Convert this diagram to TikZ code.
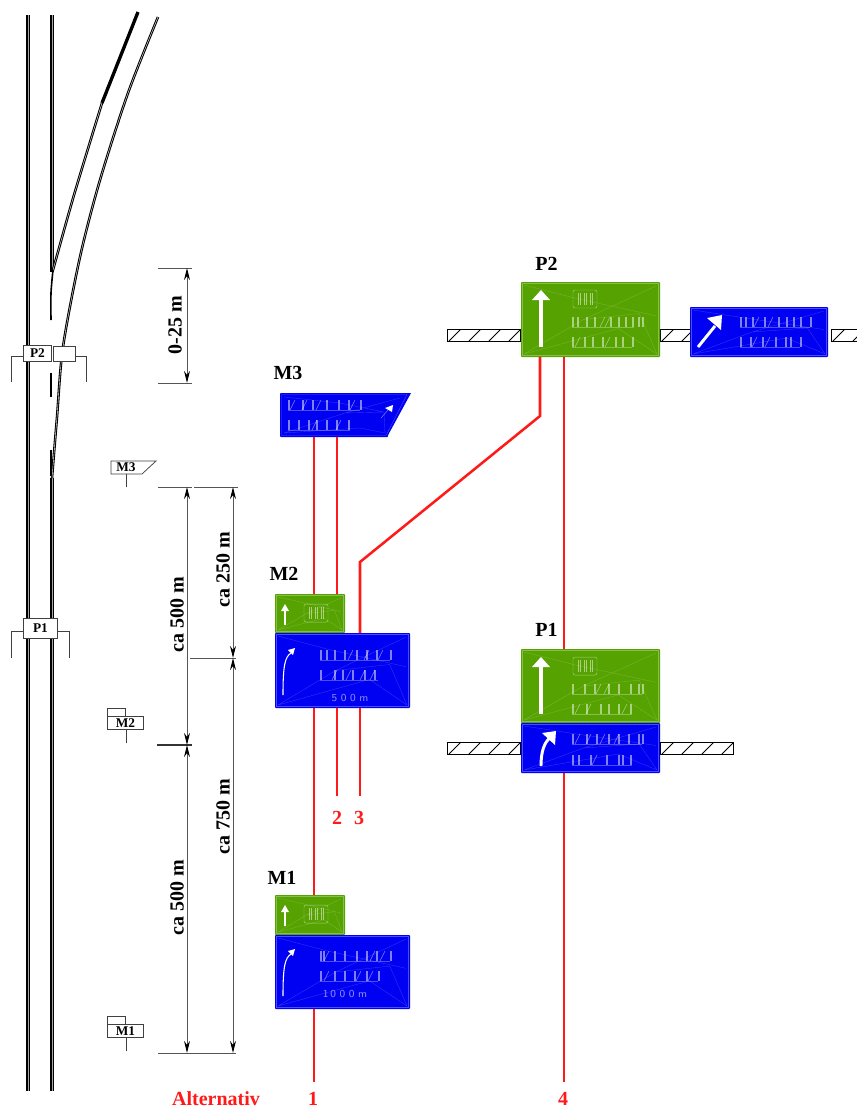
\documentclass[tikz,border=0pt]{standalone}
\usepackage{fontspec}
\setmainfont{Liberation Serif}
\usetikzlibrary{arrows.meta,patterns,calc}
\definecolor{signgreen}{HTML}{55A200}
\definecolor{signblue}{HTML}{0000F2}
\definecolor{linered}{HTML}{FF1A1A}
\definecolor{dimgray}{HTML}{555555}
\tikzset{
  signbox/.style={draw=none,inner sep=0,outer sep=0,rounded corners=0.6pt},
  glyph/.style={draw=white,draw opacity=.5,line width=.36pt},
  meshline/.style={draw=white,draw opacity=.2,line width=.28pt},
  redline/.style={draw=linered,line width=1.9pt},
  roadmain/.style={draw=black,line width=1.05pt,double=black!35,double distance=.3pt},
  roadline/.style={draw=black,line width=.8pt,double=white,double distance=.3pt},
  roadthick/.style={draw=black,line width=2.5pt},
  thinblack/.style={draw=black!75,line width=.55pt},
  signarrow/.style={draw=white,line width=2.2pt},
  dimline/.style={draw=dimgray,line width=.65pt},
  dimarrow/.style={dimline,{Stealth[length=9pt,width=4.4pt,color=black]}-{Stealth[length=9pt,width=4.4pt,color=black]}},
  bigtext/.style={font=\bfseries\fontsize{15}{15}\selectfont,inner sep=0,text=black},
  redtext/.style={bigtext,text=linered},
  smalltext/.style={font=\bfseries\fontsize{10}{10}\selectfont,inner sep=0},
  roadbox/.style={draw=black!75,fill=white,line width=.55pt,inner sep=0,outer sep=0},
  barbox/.style={draw=black,line width=.6pt,fill=white,inner sep=0,outer sep=0},
}
% sign plate: name, colour, x1, y1, x2, y2
\newcommand{\signplate}[6]{%
  \pgfmathsetmacro{\sw}{(#5-#3)*.75}\pgfmathsetmacro{\sh}{(#6-#4)*.75}%
  \node[signbox,fill=#2,minimum width=\sw pt,minimum height=\sh pt] (#1) at ({(#3+#5)/2},{(#4+#6)/2}) {};
  \draw[meshline,draw opacity=.3] (#3+1.5,#4+1.5) rectangle (#5-1.5,#6-1.5);
  \draw[meshline] (#3+3,#6-3) -- ({#3+.45*(#5-#3)},{#4+.5*(#6-#4)}) -- (#5-4,#4+4)
    (#3+3,#6-3) -- ({#3+.7*(#5-#3)},{#4+.62*(#6-#4)}) -- (#5-3,#6-3)
    (#3+3,#4+3) -- ({#3+.4*(#5-#3)},{#4+.22*(#6-#4)}) -- (#5-4,{#4+.45*(#6-#4)})
    ({#3+.45*(#5-#3)},{#4+.5*(#6-#4)}) -- ({#3+.85*(#5-#3)},{#4+.42*(#6-#4)}) -- (#5-3,#6-3);
}
% row of letter strokes: x, y, height, vertical offsets, slanted offsets
\newcommand{\strokes}[5]{%
  \foreach \d in {#4} {\draw[glyph] ({#1+\d},#2) -- ++(0,#3); \draw[glyph] ({#1+\d+1.2},#2) -- ++(0,#3);}
  \foreach \d in {#5} {\draw[glyph] ({#1+\d},#2+#3) -- ++(5,-#3);}
  \draw[glyph,draw opacity=.3] (#1,#2+#3) -- ++({\lastrow},0);
}
\newcommand{\lastrow}{62}
\newcommand{\plate}[4]{\draw[glyph,rounded corners=1.5pt] (#1,#2) rectangle (#3,#4);
  \foreach \t in {.2,.3,.45,.55,.7,.8} {\draw[glyph] ({#1+\t*(#3-#1)},#2+3) -- ({#1+\t*(#3-#1)},#4-3);}}
\begin{document}
\begin{tikzpicture}[x=.75pt,y=-.75pt]
\useasboundingbox (0,0) rectangle (857,1108);

% ---------- road ----------
\coordinate (ra1) at (28,15); \coordinate (ra2) at (28,1091);
\coordinate (rb1) at (52,15); \coordinate (rb2) at (52,272);
\coordinate (rc1) at (52,478); \coordinate (rc2) at (52,1091);
\coordinate (rd1) at (51,373); \coordinate (rd2) at (51,397);
\coordinate (re1) at (51,450); \coordinate (re2) at (51,476);
\coordinate (rf1) at (138,12); \coordinate (rf2) at (102,103);
\draw[roadmain] (ra1) -- (ra2);
\draw[roadmain] (rb1) -- (rb2);
\draw[roadmain] (rc1) -- (rc2);
\draw[draw=black,line width=1pt] (rd1) -- (rd2);
\draw[draw=black,line width=1.5pt] (re1) -- (re2);
\draw[roadthick] (rf1) -- (rf2);
\draw[roadline] plot[smooth,tension=.5] coordinates {(rf2) (74,195) (53,270)};
\draw[draw=black,line width=1.2pt] plot[smooth,tension=.5] coordinates {(53,270) (51,293) (51,320)};
\draw[roadline] plot[smooth,tension=.5] coordinates {(158,17) (128,93) (100,180) (80,257) (63,347) (57,417) (52,478)};

% road-side gantries
\node[roadbox,smalltext,minimum width=21.5pt,minimum height=12pt] (gp2) at (37.5,353) {P2};
\node[roadbox,minimum width=16.5pt,minimum height=11.25pt] (gp2b) at (64,353.5) {};
\coordinate (gp2l) at (11,382); \coordinate (gp2r) at (86.5,382);
\draw[thinblack] (gp2.west |- 0,356) -| (gp2l);
\draw[thinblack] (gp2b.east |- 0,356) -| (gp2r);
\node[roadbox,smalltext,minimum width=25pt,minimum height=15pt] (gp1) at (40.5,628) {P1};
\coordinate (gp1l) at (11,658); \coordinate (gp1r) at (69,658);
\draw[thinblack] (gp1.west |- 0,631) -| (gp1l);
\draw[thinblack] (gp1.east |- 0,631) -| (gp1r);

% small roadside markers
\draw[roadbox] (111,461) -- (156,461) -- (142,474) -- (111,474) -- cycle;
\node[smalltext] (sm3) at (126,467.5) {M3};
\coordinate (sm3s) at (126,487);
\draw[thinblack] (sm3s |- 0,474) -- (sm3s);
\draw[roadbox] (107,708) rectangle (125,716);
\node[roadbox,smalltext,minimum width=27.5pt,minimum height=10pt] (sm2) at (125.5,723) {M2};
\coordinate (sm2s) at (126,743);
\draw[thinblack] (sm2s |- sm2.south) -- (sm2s);
\draw[roadbox] (107,1016) rectangle (125,1024);
\node[roadbox,smalltext,minimum width=27.5pt,minimum height=10pt] (sm1) at (125.5,1031) {M1};
\coordinate (sm1s) at (126,1051);
\draw[thinblack] (sm1s |- sm1.south) -- (sm1s);

% ---------- dimensions ----------
\coordinate (d1a) at (187,268); \coordinate (d1b) at (187,383);
\coordinate (d2a) at (187,487); \coordinate (d2b) at (187,745); \coordinate (d2c) at (187,1053);
\coordinate (d3a) at (233,487); \coordinate (d3b) at (233,658); \coordinate (d3c) at (233,1053);
\draw[dimline] (158,268) -- (192,268);
\draw[dimline] (158,383) -- (192,383);
\draw[dimline] (158,487) -- (192,487);
\draw[dimline] (194,487) -- (238,487);
\draw[dimline] (190,658) -- (236,658);
\draw[draw=black!80,line width=.8pt] (157,745) -- (192,745);
\draw[dimline] (158,1053) -- (236,1053);
\draw[dimarrow] (d1a) -- (d1b);
\draw[dimarrow] (d2a) -- (d2b);
\draw[dimarrow] (d2b) -- (d2c);
\draw[dimarrow] (d3a) -- (d3b);
\draw[dimarrow] (d3b) -- (d3c);
\node[bigtext,rotate=90] (l025) at (175,325) {0-25 m};
\node[bigtext,rotate=90] (l500a) at (177,615) {ca 500 m};
\node[bigtext,rotate=90] (l500b) at (177,898) {ca 500 m};
\node[bigtext,rotate=90] (l250) at (223,570) {ca 250 m};
\node[bigtext,rotate=90] (l750) at (223,817) {ca 750 m};

% ---------- hatched gantry bars ----------
\foreach \nm/\xa/\ya/\xb/\yb in {b1/447/329/520/341,b2/660/329/690/341,b3/831/329/857/341,b4/447/742/520/754,b5/660/742/733/754}{
  \draw[barbox] (\xa,\ya) rectangle (\xb,\yb);
  \begin{scope}
    \clip (\xa,\ya) rectangle (\xb,\yb);
    \foreach \k in {-2,...,6} {\draw[draw=black,line width=.6pt] ({\xa+\k*20+2},\yb) -- ++(12,-12);}
  \end{scope}
}

% ---------- sign P2 ----------
\signplate{p2g}{signgreen}{521}{282}{660}{357}
\draw[signarrow,line width=2.4pt] (541,347) -- (541,298);
\fill[white] (532,300) -- (541,290) -- (550,300) -- cycle;
\plate{573}{290}{597}{308}
\strokes{572}{317}{10}{0,5,14,22,38,46,53,60,66,70}{28,33}
\renewcommand{\lastrow}{60}
\strokes{572}{337}{10}{0,12,20,30,43,50,60}{3,33}
\renewcommand{\lastrow}{70}
\signplate{p2b}{signblue}{690}{307}{828}{357}
\draw[signarrow] (698,347) -- (715,326);
\fill[white] (707,318) -- (722,315) -- (721,330) -- cycle;
\strokes{740}{317}{10}{0,5,12,24,38,46,53,60,70}{14,28}
\renewcommand{\lastrow}{60}
\strokes{740}{337}{10}{0,10,22,35,45,50,60}{12,25}
\renewcommand{\lastrow}{72}

% ---------- sign M3 ----------
\node[signbox,fill=signblue,minimum width=81pt,minimum height=33pt] (m3) at (334,415) {};
\fill[signblue] (387,393) -- (411,393) -- (387,437) -- cycle;
\draw[meshline,draw opacity=.3] (281.5,394.5) -- (407,394.5) -- (386,435.5) -- (281.5,435.5) -- cycle;
\draw[meshline] (284,433) -- (345,413) -- (400,398)
  (284,433) -- (360,428) -- (385,433)
  (284,397) -- (340,403) -- (384,412)
  (345,413) -- (384,412) -- (385,433);
\draw[glyph] (381,418) -- (388,410);
\fill[white] (385,408) -- (393,405) -- (392,412) -- cycle;
\strokes{288}{400}{10}{0,14,24,38,50,60,72}{2,14,28,62}
\renewcommand{\lastrow}{62}
\strokes{288}{420}{10}{0,10,20,28,38,48,60}{24,48}

% ---------- sign M2 ----------
\signplate{m2g}{signgreen}{275}{594}{345}{633}
\draw[glyph,draw opacity=1,line width=.8pt] (285,625) -- (285,610);
\fill[white] (281,611) -- (285,604) -- (289,611) -- cycle;
\plate{304}{604}{328}{622}
\signplate{m2b}{signblue}{275}{633}{410}{708}
\draw[glyph,draw opacity=1,line width=.8pt] (283,695) .. controls (283,665) and (285,657) .. (291,653);
\fill[white] (288,650) -- (295,648) -- (293,655) -- cycle;
\renewcommand{\lastrow}{70}
\strokes{320}{650}{10}{0,6,14,24,36,46,56,70}{28,44,58}
\renewcommand{\lastrow}{58}
\strokes{320}{670}{10}{0,14,22,32,44,54}{12,26,40,50}
\node[text=white,opacity=.55,font=\sffamily\fontsize{8}{8}\selectfont,inner sep=0] (t500) at (350,698) {5\,\,0\,\,0\,\,m};

% ---------- sign M1 ----------
\signplate{m1g}{signgreen}{275}{895}{345}{935}
\draw[glyph,draw opacity=1,line width=.8pt] (285,926) -- (285,911);
\fill[white] (281,912) -- (285,905) -- (289,912) -- cycle;
\plate{304}{905}{328}{923}
\signplate{m1b}{signblue}{275}{935}{410}{1009}
\draw[glyph,draw opacity=1,line width=.8pt] (283,996) .. controls (283,966) and (285,958) .. (291,954);
\fill[white] (288,951) -- (295,949) -- (293,956) -- cycle;
\renewcommand{\lastrow}{70}
\strokes{320}{951}{10}{0,3,14,24,36,46,56,70}{4,50,60}
\renewcommand{\lastrow}{58}
\strokes{320}{971}{10}{0,14,24,34,46,58}{4,36,48}
\node[text=white,opacity=.55,font=\sffamily\fontsize{8}{8}\selectfont,inner sep=0] (t1000) at (345,994) {1\,0\,\,0\,\,0\,\,m};

% ---------- sign P1 ----------
\signplate{p1g}{signgreen}{521}{649}{660}{723}
\draw[signarrow,line width=2.4pt] (541,714) -- (541,665);
\fill[white] (532,667) -- (541,657) -- (550,667) -- cycle;
\plate{573}{657}{597}{675}
\renewcommand{\lastrow}{70}
\strokes{572}{684}{10}{0,12,22,36,46,58,66,70}{24,32}
\renewcommand{\lastrow}{60}
\strokes{572}{704}{10}{0,14,28,36,46,58}{3,14,50}
\signplate{p1b}{signblue}{521}{723}{660}{773}
\draw[signarrow] (541,766) .. controls (541,752) and (544,742) .. (551,737);
\fill[white] (542,733) -- (556,731) -- (555,745) -- cycle;
\renewcommand{\lastrow}{70}
\strokes{572}{734}{10}{0,14,24,36,46,56,66,70}{3,14,28,42}
\renewcommand{\lastrow}{60}
\strokes{572}{755}{10}{0,6,18,34,46,50,58}{20}

% ---------- red connectors ----------
\coordinate (e1) at (314,1082);
\coordinate (e2) at (337,796);
\coordinate (e3) at (360,796);
\coordinate (e4) at (564,1082);
\coordinate (k1) at (360,562);
\coordinate (k2) at (540,416);
\coordinate (x1) at (314,0); \coordinate (x2) at (337,0); \coordinate (x3) at (360,0); \coordinate (x4) at (564,0);
\draw[redline] (e1) -- (x1 |- m1b.south);
\draw[redline] (x1 |- m1g.north) -- (x1 |- m2b.south);
\draw[redline] (x1 |- m2g.north) -- (x1 |- m3.south);
\draw[redline] (x2 |- m2g.north) -- (x2 |- m3.south);
\draw[redline] (e2) -- (x2 |- m2b.south);
\draw[redline] (e3) -- (x3 |- m2b.south);
\draw[redline] (x3 |- m2b.north) -- (k1) -- (k2) -- (k2 |- p2g.south);
\draw[redline] (x4 |- p1g.north) -- (x4 |- p2g.south);
\draw[redline] (e4) -- (x4 |- p1b.south);

% ---------- labels ----------
\node[bigtext] (lp2) at (546.5,264) {P2};
\node[bigtext] (lm3) at (288,373) {M3};
\node[bigtext] (lm2) at (284,574) {M2};
\node[bigtext] (lp1) at (546.5,630) {P1};
\node[bigtext] (lm1) at (282,878) {M1};
\node[redtext] (n2) at (337,818) {2};
\node[redtext] (n3) at (359,818) {3};
\node[redtext] (n1) at (313,1099) {1};
\node[redtext] (n4) at (563,1099) {4};
\node[redtext] (alt) at (216,1099) {Alternativ};
\end{tikzpicture}
\end{document}
